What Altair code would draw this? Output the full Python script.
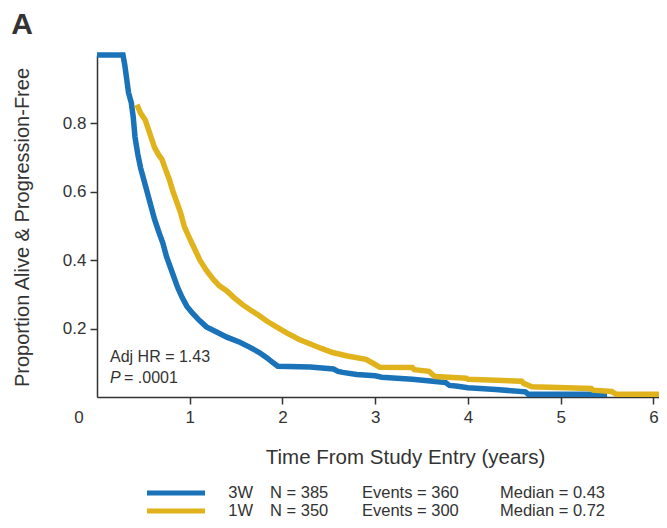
import altair as alt
import pandas as pd

# ---- data (Kaplan-Meier curves; repeated times mark visible steps) ----
t_3w = [0.0, 0.28, 0.30, 0.32, 0.34, 0.37, 0.39, 0.41, 0.44, 0.47, 0.51, 0.54, 0.58, 0.62,
        0.67, 0.71, 0.75, 0.79, 0.83, 0.87, 0.92, 0.97, 1.03, 1.10, 1.18, 1.29, 1.40, 1.54,
        1.65, 1.75, 1.83, 1.90, 1.95, 2.30, 2.55, 2.60, 2.65, 2.80, 3.00, 3.07, 3.40, 3.65,
        3.76, 3.80, 3.87, 4.00, 4.30, 4.62, 4.65, 5.50]
s_3w = [1.0, 1.0, 0.97, 0.93, 0.89, 0.86, 0.82, 0.76, 0.71, 0.67, 0.63, 0.60, 0.56, 0.52,
        0.48, 0.45, 0.41, 0.38, 0.35, 0.32, 0.29, 0.265, 0.245, 0.225, 0.205, 0.19, 0.175, 0.16,
        0.145, 0.13, 0.115, 0.10, 0.09, 0.088, 0.082, 0.075, 0.072, 0.066, 0.062, 0.058, 0.052, 0.045,
        0.042, 0.034, 0.032, 0.027, 0.022, 0.015, 0.008, 0.008]

t_1w = [0.43, 0.47, 0.52, 0.57, 0.62, 0.66, 0.70, 0.74, 0.78, 0.82, 0.86, 0.90, 0.94, 0.98,
        1.04, 1.11, 1.18, 1.25, 1.32, 1.40, 1.48, 1.57, 1.65, 1.74, 1.83, 1.93, 2.05, 2.18,
        2.30, 2.42, 2.54, 2.70, 2.90, 3.00, 3.05, 3.40, 3.42, 3.58, 3.62, 3.65, 3.98, 4.00,
        4.58, 4.60, 4.69, 5.33, 5.35, 5.55, 5.60, 6.06]
s_1w = [0.855, 0.83, 0.81, 0.77, 0.73, 0.71, 0.695, 0.665, 0.636, 0.60, 0.57, 0.54, 0.50, 0.475,
        0.44, 0.40, 0.37, 0.345, 0.325, 0.31, 0.29, 0.27, 0.255, 0.24, 0.222, 0.206, 0.187, 0.168,
        0.155, 0.142, 0.13, 0.12, 0.11, 0.095, 0.087, 0.086, 0.080, 0.075, 0.065, 0.06, 0.055, 0.052,
        0.046, 0.040, 0.03, 0.025, 0.02, 0.016, 0.008, 0.008]

arm_names = ["3W", "1W"]
arm_n = [385, 350]
arm_events = [360, 300]
arm_median = [0.43, 0.72]
arm_colors = ["#1a73b8", "#e0b21b"]

x_ticks = [1, 2, 3, 4, 5, 6]
y_ticks = [0.2, 0.4, 0.6, 0.8]

FONT = "Liberation Sans, Arial, sans-serif"
TXT = "#333333"

df_3w = pd.DataFrame({"t": t_3w, "s": s_3w, "arm": "3W"})
df_1w = pd.DataFrame({"t": t_1w, "s": s_1w, "arm": "1W"})

x_enc = alt.X("t:Q",
              scale=alt.Scale(domain=[0, 6.06], nice=False, zero=False),
              axis=alt.Axis(values=x_ticks, format="d", title="Time  From Study Entry (years)",
                            tickSize=7, labelPadding=5, labelFontSize=17,
                            titleFontSize=20.5, titleFontWeight="normal",
                            titleX=308, titleY=60, titleBaseline="middle",
                            titleAlign="center"))
y_enc = alt.Y("s:Q",
              scale=alt.Scale(domain=[0, 1], nice=False),
              axis=alt.Axis(values=y_ticks, format=".1f",
                            title="Proportion Alive & Progression-Free",
                            tickSize=7, labelPadding=4, labelFontSize=17,
                            titleFontSize=20, titleFontWeight="normal",
                            titleX=-75, titleY=172, titleAngle=270,
                            titleBaseline="middle", titleAlign="center"))

line_3w = alt.Chart(df_3w).mark_line(strokeWidth=5.5, color=arm_colors[0]).encode(
    x=x_enc, y=y_enc, order="t:Q")
line_1w = alt.Chart(df_1w).mark_line(strokeWidth=5.5, color=arm_colors[1]).encode(
    x="t:Q", y="s:Q", order="t:Q")

one = pd.DataFrame({"k": [0]})
layers = [line_3w, line_1w]


def txt(text, x, y, size=16, align="left", weight="normal", style="normal"):
    return alt.Chart(one).mark_text(text=text, align=align, baseline="middle",
                                    fontSize=size, font=FONT, color=TXT,
                                    fontWeight=weight, fontStyle=style).encode(
        x=alt.value(x), y=alt.value(y))


# panel letter, origin label, annotation
layers.append(txt("A", -75, -30, size=30, align="center", weight="bold"))
layers.append(txt("0", -18, 363, size=17, align="center"))
layers.append(txt("Adj HR = 1.43", 13, 302, size=16))
layers.append(txt("P", 13, 323, size=16, style="italic"))
layers.append(txt("= .0001", 27, 323, size=16))

# custom legend
row_y = [438, 456]
for i in range(2):
    layers.append(alt.Chart(one).mark_rule(strokeWidth=5, color=arm_colors[i]).encode(
        x=alt.value(50), x2=alt.value(108), y=alt.value(row_y[i])))
    layers.append(txt(arm_names[i], 156, row_y[i], size=16.5, align="right"))
    layers.append(txt(f"N = {arm_n[i]}", 173, row_y[i], size=16.5))
    layers.append(txt(f"Events = {arm_events[i]}", 265, row_y[i], size=16.5))
    layers.append(txt(f"Median = {arm_median[i]:.2f}", 403, row_y[i], size=16.5))

chart = alt.layer(*layers).properties(
    width=562, height=342,
    autosize=alt.AutoSizeParams(type="none"),
    padding={"left": 89, "top": 47, "right": 0, "bottom": 123},
).configure_view(stroke=None).configure_axis(
    grid=False, domainColor="#333333", tickColor="#333333", domainWidth=1.5, tickWidth=1.5,
    labelColor=TXT, titleColor=TXT, labelFont=FONT, titleFont=FONT,
)

chart.save("out.html", embed_options={"renderer": "svg", "actions": False})
